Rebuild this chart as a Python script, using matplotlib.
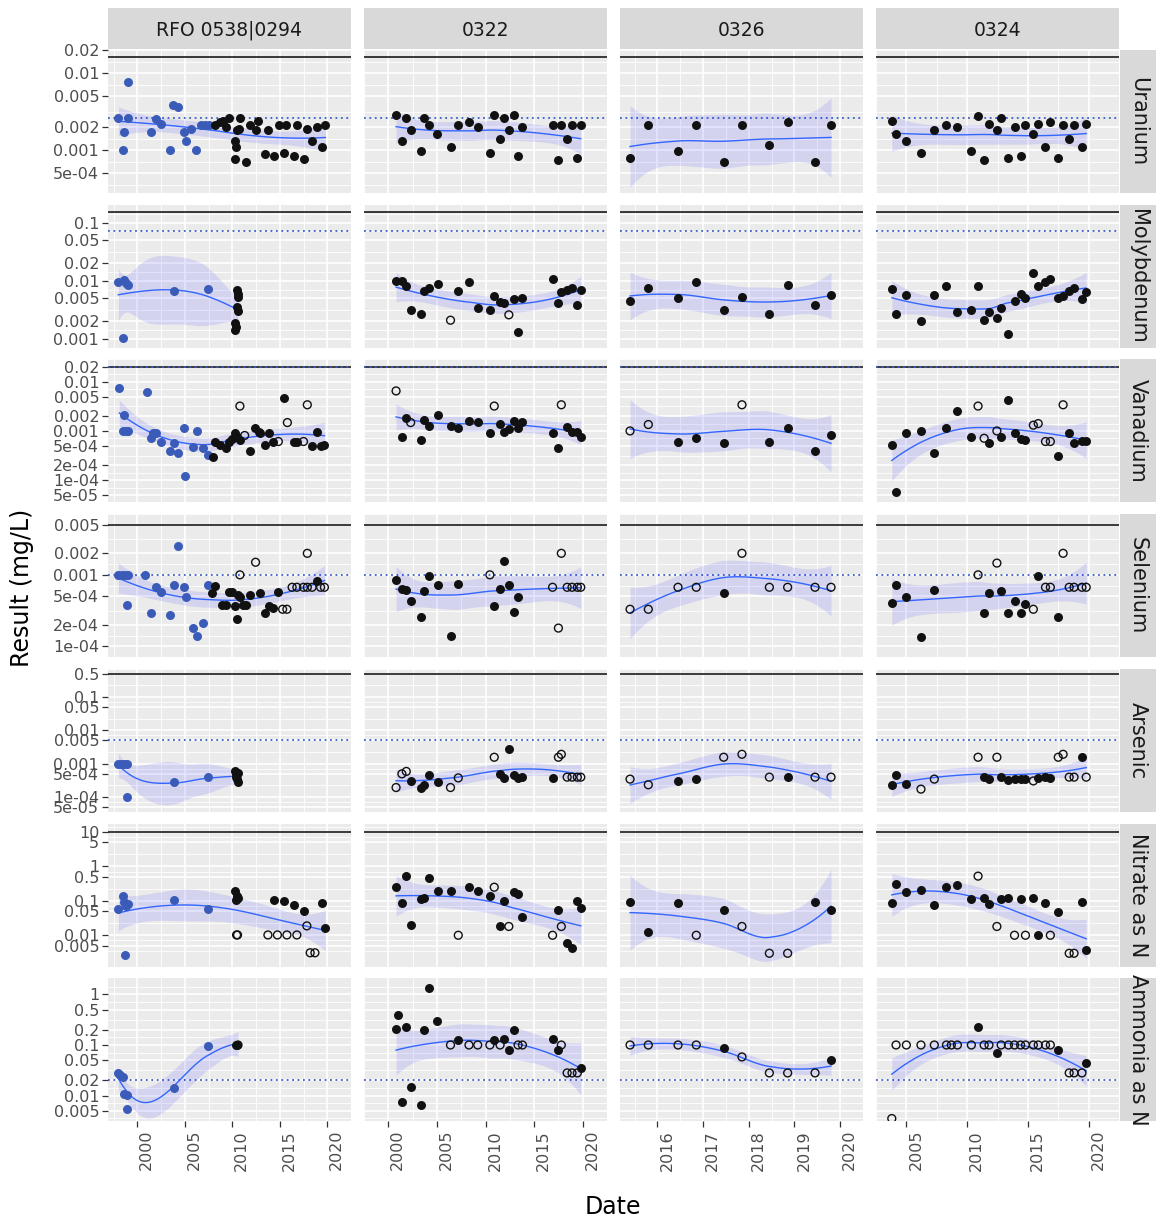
import numpy as np
import matplotlib
matplotlib.use("Agg")
import matplotlib.pyplot as plt
from matplotlib.ticker import NullFormatter
from matplotlib.transforms import ScaledTranslation

stations = ["RFO 0538|0294", "0322", "0326", "0324"]
analytes = ["Uranium", "Molybdenum", "Vanadium", "Selenium", "Arsenic",
            "Nitrate as N", "Ammonia as N"]

# (decimal year, result mg/L, kind)  b = station 0538 (blue), k = detected, o = below detection
uranium = [
    [(1998.0, 0.0026, 'b'), (1998.5, 0.0010, 'b'), (1998.6, 0.0017, 'b'), (1999.0, 0.0076, 'b'),
     (1999.0, 0.0026, 'b'), (2001.4, 0.0017, 'b'), (2002.0, 0.0025, 'b'), (2002.5, 0.0022, 'b'),
     (2003.4, 0.0010, 'b'), (2003.8, 0.0039, 'b'), (2004.3, 0.0036, 'b'), (2004.9, 0.0017, 'b'),
     (2005.1, 0.0013, 'b'), (2005.7, 0.0019, 'b'), (2006.2, 0.0010, 'b'), (2006.7, 0.0021, 'b'),
     (2007.1, 0.0021, 'b'), (2007.5, 0.0021, 'b'),
     (2008.2, 0.0021, 'k'), (2008.7, 0.0023, 'k'), (2009.0, 0.0024, 'k'), (2009.3, 0.0020, 'k'),
     (2009.7, 0.0026, 'k'), (2010.3, 0.0013, 'k'), (2010.4, 0.0011, 'k'), (2010.5, 0.0018, 'k'),
     (2010.7, 0.0019, 'k'), (2010.8, 0.0026, 'k'), (2010.3, 0.00076, 'k'), (2011.4, 0.00071, 'k'),
     (2011.9, 0.0021, 'k'), (2012.5, 0.0018, 'k'), (2012.7, 0.0024, 'k'), (2013.8, 0.0018, 'k'),
     (2013.4, 0.00089, 'k'), (2014.4, 0.00084, 'k'), (2014.9, 0.0021, 'k'), (2015.7, 0.0021, 'k'),
     (2015.4, 0.00093, 'k'), (2016.5, 0.00084, 'k'), (2016.8, 0.0021, 'k'), (2017.5, 0.00076, 'k'),
     (2017.9, 0.0019, 'k'), (2018.4, 0.0013, 'k'), (2018.9, 0.0020, 'k'), (2019.4, 0.0011, 'k'),
     (2019.8, 0.0021, 'k')],
    [(2000.8, 0.0029, 'k'), (2001.4, 0.0013, 'k'), (2001.85, 0.0026, 'k'), (2002.3, 0.0018, 'k'),
     (2003.4, 0.00098, 'k'), (2003.7, 0.0026, 'k'), (2004.2, 0.0021, 'k'), (2005.05, 0.0016, 'k'),
     (2006.4, 0.0011, 'k'), (2007.2, 0.0021, 'k'), (2008.3, 0.0023, 'k'), (2009.2, 0.0020, 'k'),
     (2010.45, 0.00093, 'k'), (2010.9, 0.0029, 'k'), (2011.5, 0.0014, 'k'), (2011.9, 0.0026, 'k'),
     (2012.4, 0.0018, 'k'), (2012.9, 0.0029, 'k'), (2013.35, 0.00084, 'k'), (2013.8, 0.0020, 'k'),
     (2016.9, 0.0021, 'k'), (2017.5, 0.00075, 'k'), (2017.8, 0.0021, 'k'), (2018.4, 0.0014, 'k'),
     (2018.9, 0.0021, 'k'), (2019.45, 0.00079, 'k'), (2019.8, 0.0021, 'k')],
    [(2015.4, 0.00079, 'k'), (2015.8, 0.0021, 'k'), (2016.45, 0.00098, 'k'), (2016.85, 0.0021, 'k'),
     (2017.45, 0.00071, 'k'), (2017.85, 0.0021, 'k'), (2018.45, 0.00116, 'k'), (2018.85, 0.0023, 'k'),
     (2019.45, 0.00071, 'k'), (2019.8, 0.0021, 'k')],
    [(2003.8, 0.0024, 'k'), (2004.15, 0.0016, 'k'), (2005.0, 0.0013, 'k'), (2006.2, 0.00093, 'k'),
     (2007.3, 0.0018, 'k'), (2008.3, 0.0021, 'k'), (2009.2, 0.0020, 'k'), (2010.35, 0.00098, 'k'),
     (2010.9, 0.0028, 'k'), (2011.4, 0.00075, 'k'), (2011.8, 0.0022, 'k'), (2012.45, 0.0018, 'k'),
     (2012.8, 0.0026, 'k'), (2013.4, 0.00079, 'k'), (2013.9, 0.0020, 'k'), (2014.4, 0.00084, 'k'),
     (2014.8, 0.0021, 'k'), (2015.45, 0.0016, 'k'), (2015.85, 0.0022, 'k'), (2016.45, 0.0011, 'k'),
     (2016.85, 0.0023, 'k'), (2017.5, 0.00079, 'k'), (2017.9, 0.0021, 'k'), (2018.4, 0.0014, 'k'),
     (2018.8, 0.0021, 'k'), (2019.45, 0.0011, 'k'), (2019.8, 0.0022, 'k')],
]

molybdenum = [
    [(1998.0, 0.0094, 'b'), (1998.5, 0.00105, 'b'), (1998.6, 0.0103, 'b'), (1998.85, 0.0091, 'b'),
     (1999.05, 0.0086, 'b'), (2003.9, 0.0067, 'b'), (2007.4, 0.0073, 'b'),
     (2010.3, 0.0019, 'k'), (2010.3, 0.0014, 'k'), (2010.5, 0.0069, 'k'), (2010.6, 0.0053, 'k'),
     (2010.55, 0.0030, 'k'), (2010.5, 0.0036, 'k'), (2010.6, 0.0059, 'k'), (2010.35, 0.0016, 'k')],
    [(2000.8, 0.0100, 'k'), (2001.4, 0.0100, 'k'), (2001.85, 0.0083, 'k'), (2002.3, 0.0032, 'k'),
     (2003.4, 0.0027, 'k'), (2003.7, 0.0066, 'k'), (2004.2, 0.0075, 'k'), (2005.1, 0.0088, 'k'),
     (2006.4, 0.0021, 'o'), (2007.2, 0.0066, 'k'), (2008.3, 0.0094, 'k'), (2009.2, 0.0034, 'k'),
     (2010.45, 0.0032, 'k'), (2010.9, 0.0055, 'k'), (2011.5, 0.0043, 'k'), (2011.9, 0.0041, 'k'),
     (2012.4, 0.0026, 'o'), (2012.9, 0.0049, 'k'), (2013.35, 0.0013, 'k'), (2013.8, 0.0051, 'k'),
     (2016.9, 0.0107, 'k'), (2017.5, 0.0041, 'k'), (2017.8, 0.0064, 'k'), (2018.4, 0.0069, 'k'),
     (2018.9, 0.0075, 'k'), (2019.45, 0.0039, 'k'), (2019.8, 0.0069, 'k')],
    [(2015.4, 0.0045, 'k'), (2015.8, 0.0075, 'k'), (2016.45, 0.0051, 'k'), (2016.85, 0.0094, 'k'),
     (2017.45, 0.0032, 'k'), (2017.85, 0.0053, 'k'), (2018.45, 0.0027, 'k'), (2018.85, 0.0085, 'k'),
     (2019.45, 0.0039, 'k'), (2019.8, 0.0058, 'k')],
    [(2003.8, 0.0071, 'k'), (2004.15, 0.0027, 'k'), (2005.0, 0.0058, 'k'), (2006.2, 0.0020, 'k'),
     (2007.3, 0.0058, 'k'), (2008.3, 0.0083, 'k'), (2009.2, 0.0029, 'k'), (2010.35, 0.0032, 'k'),
     (2010.9, 0.0083, 'k'), (2011.4, 0.0021, 'k'), (2011.8, 0.0029, 'k'), (2012.45, 0.0023, 'k'),
     (2012.8, 0.0034, 'k'), (2013.4, 0.00124, 'k'), (2013.9, 0.0045, 'k'), (2014.4, 0.0060, 'k'),
     (2014.8, 0.0051, 'k'), (2015.45, 0.0134, 'k'), (2015.85, 0.0083, 'k'), (2016.45, 0.0097, 'k'),
     (2016.85, 0.0107, 'k'), (2017.5, 0.0051, 'k'), (2017.9, 0.0055, 'k'), (2018.4, 0.0066, 'k'),
     (2018.8, 0.0075, 'k'), (2019.45, 0.0049, 'k'), (2019.8, 0.0063, 'k')],
]

vanadium = [
    [(1998.1, 0.0075, 'b'), (1998.6, 0.0021, 'b'), (1998.5, 0.0010, 'b'), (1998.8, 0.0010, 'b'),
     (1999.0, 0.0010, 'b'), (2001.0, 0.0063, 'b'), (2001.65, 0.00092, 'b'), (2001.95, 0.00092, 'b'),
     (2001.4, 0.00071, 'b'), (2002.45, 0.00061, 'b'), (2003.45, 0.00039, 'b'), (2003.9, 0.00057, 'b'),
     (2004.25, 0.00035, 'b'), (2004.9, 0.00116, 'b'), (2005.0, 0.00012, 'b'), (2005.85, 0.00047, 'b'),
     (2006.25, 0.0010, 'b'), (2006.9, 0.00045, 'b'), (2007.4, 0.00033, 'b'),
     (2008.0, 0.00030, 'k'), (2008.2, 0.00061, 'k'), (2008.7, 0.00053, 'k'), (2009.3, 0.00044, 'k'),
     (2009.7, 0.00061, 'k'), (2010.0, 0.00069, 'k'), (2010.3, 0.00090, 'k'), (2010.5, 0.00077, 'k'),
     (2010.8, 0.00066, 'k'), (2010.8, 0.0032, 'o'), (2011.3, 0.00081, 'o'), (2011.9, 0.00039, 'k'),
     (2012.4, 0.00116, 'k'), (2012.8, 0.00097, 'k'), (2012.9, 0.00092, 'k'), (2013.45, 0.00051, 'k'),
     (2013.9, 0.00092, 'k'), (2014.3, 0.00061, 'k'), (2014.85, 0.00061, 'o'), (2015.4, 0.0046, 'k'),
     (2015.8, 0.00148, 'o'), (2016.5, 0.00061, 'k'), (2016.8, 0.00061, 'k'), (2017.5, 0.00061, 'o'),
     (2017.9, 0.0034, 'o'), (2018.35, 0.00050, 'k'), (2018.9, 0.00097, 'k'), (2019.35, 0.00049, 'k'),
     (2019.7, 0.00053, 'k')],
    [(2000.8, 0.0065, 'o'), (2001.4, 0.00077, 'k'), (2001.85, 0.0018, 'k'), (2002.3, 0.00148, 'o'),
     (2003.4, 0.00066, 'k'), (2003.7, 0.00165, 'k'), (2004.2, 0.00127, 'k'), (2005.1, 0.0021, 'k'),
     (2006.4, 0.00127, 'k'), (2007.2, 0.00116, 'k'), (2008.3, 0.00158, 'k'), (2009.2, 0.00153, 'k'),
     (2010.45, 0.00090, 'k'), (2010.9, 0.0032, 'o'), (2011.5, 0.00141, 'k'), (2011.9, 0.00097, 'k'),
     (2012.4, 0.0011, 'k'), (2012.9, 0.00158, 'k'), (2013.35, 0.00116, 'k'), (2013.8, 0.00153, 'k'),
     (2016.9, 0.00090, 'k'), (2017.5, 0.00044, 'k'), (2017.8, 0.0034, 'o'), (2018.4, 0.00122, 'k'),
     (2018.9, 0.00097, 'k'), (2019.45, 0.00097, 'k'), (2019.8, 0.00074, 'k')],
    [(2015.4, 0.0010, 'o'), (2015.8, 0.00135, 'o'), (2016.45, 0.00061, 'k'), (2016.85, 0.00071, 'k'),
     (2017.45, 0.00057, 'k'), (2017.85, 0.0034, 'o'), (2018.45, 0.00061, 'k'), (2018.85, 0.00116, 'k'),
     (2019.45, 0.00040, 'k'), (2019.8, 0.00083, 'k')],
    [(2003.8, 0.00051, 'k'), (2004.15, 0.000058, 'k'), (2005.0, 0.00092, 'k'), (2006.2, 0.0010, 'k'),
     (2007.3, 0.00035, 'k'), (2008.3, 0.00116, 'k'), (2009.2, 0.0026, 'k'), (2010.35, 0.00077, 'k'),
     (2010.9, 0.0032, 'o'), (2011.4, 0.00071, 'o'), (2011.8, 0.00057, 'k'), (2012.45, 0.0010, 'o'),
     (2012.8, 0.00077, 'k'), (2013.4, 0.0043, 'k'), (2013.9, 0.00090, 'k'), (2014.4, 0.00069, 'k'),
     (2014.8, 0.00066, 'k'), (2015.45, 0.00131, 'o'), (2015.85, 0.00141, 'o'), (2016.45, 0.00061, 'o'),
     (2016.85, 0.00061, 'o'), (2017.5, 0.00031, 'k'), (2017.9, 0.0034, 'o'), (2018.4, 0.00090, 'k'),
     (2018.8, 0.00057, 'k'), (2019.45, 0.00063, 'k'), (2019.8, 0.00063, 'k')],
]

selenium = [
    [(1998.0, 0.0010, 'b'), (1998.35, 0.0010, 'b'), (1998.7, 0.0010, 'b'), (1999.0, 0.0010, 'b'),
     (1998.95, 0.00038, 'b'), (2000.8, 0.0010, 'b'), (2001.4, 0.00029, 'b'), (2002.0, 0.00067, 'b'),
     (2002.45, 0.00057, 'b'), (2003.45, 0.00027, 'b'), (2003.9, 0.00071, 'b'), (2004.25, 0.0025, 'b'),
     (2004.9, 0.00067, 'b'), (2005.1, 0.00049, 'b'), (2005.85, 0.00018, 'b'), (2006.25, 0.00014, 'b'),
     (2006.9, 0.00021, 'b'), (2007.4, 0.00071, 'b'),
     (2007.9, 0.00055, 'k'), (2008.2, 0.00069, 'k'), (2008.95, 0.00038, 'k'), (2009.35, 0.00038, 'k'),
     (2009.7, 0.00058, 'k'), (2009.95, 0.00057, 'k'), (2010.3, 0.00037, 'k'), (2010.5, 0.00024, 'k'),
     (2010.65, 0.00053, 'k'), (2010.8, 0.00049, 'k'), (2010.8, 0.0010, 'o'), (2011.15, 0.00038, 'k'),
     (2011.45, 0.00038, 'k'), (2011.9, 0.00053, 'k'), (2012.45, 0.0015, 'o'), (2012.9, 0.00055, 'k'),
     (2013.45, 0.00029, 'k'), (2013.85, 0.00037, 'k'), (2014.3, 0.00034, 'k'), (2014.85, 0.00057, 'k'),
     (2015.3, 0.00033, 'o'), (2015.75, 0.00033, 'o'), (2016.3, 0.00067, 'o'), (2016.8, 0.00067, 'o'),
     (2017.5, 0.00067, 'o'), (2017.9, 0.0020, 'o'), (2017.9, 0.00067, 'o'), (2018.4, 0.00067, 'o'),
     (2018.9, 0.00083, 'k'), (2019.3, 0.00067, 'o'), (2019.7, 0.00067, 'o')],
    [(2000.8, 0.00085, 'k'), (2001.4, 0.00064, 'k'), (2001.85, 0.00061, 'k'), (2002.3, 0.00043, 'k'),
     (2003.4, 0.00026, 'k'), (2003.7, 0.00059, 'k'), (2004.2, 0.00097, 'k'), (2005.1, 0.00071, 'k'),
     (2006.4, 0.00014, 'k'), (2007.2, 0.00075, 'k'), (2010.45, 0.0010, 'o'), (2010.9, 0.00037, 'k'),
     (2011.5, 0.00064, 'k'), (2011.9, 0.00156, 'k'), (2012.4, 0.00071, 'k'), (2012.9, 0.00030, 'k'),
     (2013.35, 0.00049, 'k'), (2016.9, 0.00067, 'o'), (2017.5, 0.00018, 'o'), (2017.8, 0.0020, 'o'),
     (2018.4, 0.00067, 'o'), (2018.9, 0.00067, 'o'), (2019.45, 0.00067, 'o'), (2019.8, 0.00067, 'o')],
    [(2015.4, 0.00033, 'o'), (2015.8, 0.00033, 'o'), (2016.45, 0.00067, 'o'), (2016.85, 0.00067, 'o'),
     (2017.45, 0.00055, 'k'), (2017.85, 0.0020, 'o'), (2018.45, 0.00067, 'o'), (2018.85, 0.00067, 'o'),
     (2019.45, 0.00067, 'o'), (2019.8, 0.00067, 'o')],
    [(2003.8, 0.00040, 'k'), (2004.15, 0.00071, 'k'), (2005.0, 0.00049, 'k'), (2006.2, 0.000135, 'k'),
     (2007.3, 0.00061, 'k'), (2010.9, 0.0010, 'o'), (2011.4, 0.00029, 'k'), (2011.8, 0.00055, 'k'),
     (2012.45, 0.00146, 'o'), (2012.8, 0.00059, 'k'), (2013.4, 0.00029, 'k'), (2013.9, 0.00043, 'k'),
     (2014.4, 0.00029, 'k'), (2014.8, 0.00039, 'k'), (2015.45, 0.00033, 'o'), (2015.85, 0.00097, 'k'),
     (2016.45, 0.00067, 'o'), (2016.85, 0.00067, 'o'), (2017.5, 0.00026, 'k'), (2017.9, 0.0020, 'o'),
     (2018.4, 0.00067, 'o'), (2018.8, 0.00067, 'o'), (2019.45, 0.00067, 'o'), (2019.8, 0.00067, 'o')],
]

arsenic = [
    [(1998.0, 0.0010, 'b'), (1998.3, 0.0010, 'b'), (1998.6, 0.0010, 'b'), (1998.9, 0.0010, 'b'),
     (1998.95, 0.000096, 'b'), (2003.9, 0.00027, 'b'), (2007.4, 0.00039, 'b'),
     (2010.3, 0.00058, 'k'), (2010.4, 0.00047, 'k'), (2010.5, 0.00034, 'k'), (2010.6, 0.00027, 'k'),
     (2010.65, 0.00052, 'k'), (2010.35, 0.00040, 'k')],
    [(2000.8, 0.00019, 'o'), (2001.4, 0.00049, 'o'), (2001.85, 0.00058, 'o'), (2002.3, 0.00030, 'k'),
     (2003.4, 0.00019, 'k'), (2003.7, 0.00023, 'k'), (2004.2, 0.00045, 'k'), (2005.1, 0.00027, 'k'),
     (2006.4, 0.00019, 'o'), (2007.2, 0.00037, 'o'), (2010.9, 0.00155, 'o'), (2011.5, 0.00047, 'k'),
     (2011.9, 0.00037, 'k'), (2012.4, 0.0028, 'k'), (2012.9, 0.00045, 'k'), (2013.35, 0.00036, 'k'),
     (2013.8, 0.00039, 'k'), (2016.9, 0.00036, 'k'), (2017.5, 0.00155, 'o'), (2017.8, 0.0019, 'o'),
     (2018.4, 0.00039, 'o'), (2018.9, 0.00039, 'o'), (2019.45, 0.00039, 'o'), (2019.8, 0.00039, 'o')],
    [(2015.4, 0.00034, 'o'), (2015.8, 0.00023, 'o'), (2016.45, 0.00030, 'k'), (2016.85, 0.00034, 'k'),
     (2017.45, 0.00155, 'o'), (2017.85, 0.0019, 'o'), (2018.45, 0.00039, 'o'), (2018.85, 0.00039, 'k'),
     (2019.45, 0.00039, 'o'), (2019.8, 0.00039, 'o')],
    [(2003.8, 0.00022, 'k'), (2004.15, 0.00045, 'k'), (2005.0, 0.00024, 'k'), (2006.2, 0.00017, 'o'),
     (2007.3, 0.00034, 'o'), (2010.9, 0.00155, 'o'), (2011.4, 0.00039, 'k'), (2011.8, 0.00034, 'k'),
     (2012.45, 0.00155, 'o'), (2012.8, 0.00039, 'k'), (2013.4, 0.00031, 'k'), (2013.9, 0.00034, 'k'),
     (2014.4, 0.00034, 'k'), (2014.8, 0.00034, 'k'), (2015.45, 0.00030, 'o'), (2015.85, 0.00037, 'k'),
     (2016.45, 0.00039, 'k'), (2016.85, 0.00037, 'k'), (2017.5, 0.00155, 'o'), (2017.9, 0.0019, 'o'),
     (2018.4, 0.00039, 'o'), (2018.8, 0.00039, 'o'), (2019.45, 0.00155, 'k'), (2019.8, 0.00039, 'o')],
]

nitrate = [
    [(1998.0, 0.057, 'b'), (1998.45, 0.14, 'b'), (1998.6, 0.090, 'b'), (1998.85, 0.072, 'b'),
     (1999.0, 0.080, 'b'), (1998.65, 0.0027, 'b'), (2003.9, 0.105, 'b'), (2007.4, 0.057, 'b'),
     (2010.3, 0.197, 'k'), (2010.5, 0.141, 'k'), (2010.4, 0.105, 'k'), (2010.6, 0.121, 'k'),
     (2010.55, 0.0102, 'o'), (2010.45, 0.0102, 'o'), (2013.75, 0.0102, 'o'), (2014.35, 0.105, 'k'),
     (2014.75, 0.0102, 'o'), (2015.4, 0.097, 'k'), (2015.75, 0.0102, 'o'), (2016.5, 0.075, 'k'),
     (2016.8, 0.0102, 'o'), (2017.55, 0.051, 'k'), (2017.85, 0.0187, 'o'), (2018.2, 0.0031, 'o'),
     (2018.7, 0.0031, 'o'), (2019.45, 0.086, 'k'), (2019.8, 0.016, 'k')],
    [(2000.8, 0.248, 'k'), (2001.4, 0.086, 'k'), (2001.85, 0.52, 'k'), (2002.3, 0.0196, 'k'),
     (2003.4, 0.113, 'k'), (2003.7, 0.118, 'k'), (2004.2, 0.455, 'k'), (2005.1, 0.197, 'k'),
     (2006.4, 0.197, 'k'), (2007.2, 0.010, 'o'), (2008.3, 0.248, 'k'), (2009.2, 0.197, 'k'),
     (2010.45, 0.141, 'k'), (2010.9, 0.248, 'o'), (2011.5, 0.018, 'k'), (2011.9, 0.10, 'k'),
     (2012.4, 0.018, 'o'), (2012.9, 0.184, 'k'), (2013.35, 0.158, 'k'), (2013.8, 0.033, 'k'),
     (2016.9, 0.010, 'o'), (2017.5, 0.055, 'k'), (2017.8, 0.018, 'o'), (2018.4, 0.0061, 'k'),
     (2018.9, 0.0044, 'k'), (2019.45, 0.10, 'k'), (2019.8, 0.060, 'k')],
    [(2015.4, 0.094, 'k'), (2015.8, 0.0125, 'k'), (2016.45, 0.086, 'k'), (2016.85, 0.010, 'o'),
     (2017.45, 0.055, 'k'), (2017.85, 0.018, 'o'), (2018.45, 0.0030, 'o'), (2018.85, 0.0030, 'o'),
     (2019.45, 0.094, 'k'), (2019.8, 0.055, 'k')],
    [(2003.8, 0.086, 'k'), (2004.15, 0.31, 'k'), (2005.0, 0.177, 'k'), (2006.2, 0.21, 'k'),
     (2007.3, 0.075, 'k'), (2008.3, 0.248, 'k'), (2009.2, 0.29, 'k'), (2010.35, 0.113, 'k'),
     (2010.9, 0.52, 'o'), (2011.4, 0.118, 'k'), (2011.8, 0.080, 'k'), (2012.45, 0.018, 'o'),
     (2012.8, 0.113, 'k'), (2013.4, 0.118, 'k'), (2013.9, 0.010, 'o'), (2014.4, 0.113, 'k'),
     (2014.8, 0.010, 'o'), (2015.45, 0.118, 'k'), (2015.85, 0.010, 'k'), (2016.45, 0.086, 'k'),
     (2016.85, 0.010, 'o'), (2017.5, 0.048, 'k'), (2018.4, 0.0030, 'o'), (2018.8, 0.0030, 'o'),
     (2019.45, 0.094, 'k'), (2019.8, 0.0037, 'k')],
]

ammonia = [
    [(1998.0, 0.028, 'b'), (1998.2, 0.026, 'b'), (1998.45, 0.023, 'b'), (1998.6, 0.0108, 'b'),
     (1998.95, 0.0103, 'b'), (1998.95, 0.0054, 'b'), (2003.9, 0.014, 'b'), (2007.4, 0.094, 'b'),
     (2010.4, 0.10, 'k'), (2010.5, 0.10, 'k'), (2010.6, 0.10, 'o')],
    [(2000.8, 0.205, 'k'), (2000.95, 0.40, 'k'), (2001.4, 0.0076, 'k'), (2001.85, 0.228, 'k'),
     (2002.3, 0.0147, 'k'), (2003.4, 0.0065, 'k'), (2003.7, 0.195, 'k'), (2004.2, 1.35, 'k'),
     (2005.05, 0.295, 'k'), (2006.4, 0.10, 'o'), (2007.2, 0.124, 'k'), (2008.3, 0.10, 'o'),
     (2009.2, 0.10, 'o'), (2010.45, 0.10, 'o'), (2010.9, 0.124, 'k'), (2011.5, 0.10, 'o'),
     (2011.9, 0.134, 'k'), (2012.4, 0.078, 'k'), (2012.9, 0.195, 'k'), (2013.35, 0.10, 'o'),
     (2013.8, 0.10, 'o'), (2016.9, 0.134, 'k'), (2017.5, 0.078, 'k'), (2017.8, 0.10, 'o'),
     (2018.4, 0.028, 'o'), (2018.9, 0.028, 'o'), (2019.45, 0.028, 'o'), (2019.8, 0.035, 'k')],
    [(2015.4, 0.10, 'o'), (2015.8, 0.10, 'o'), (2016.45, 0.10, 'o'), (2016.85, 0.10, 'o'),
     (2017.45, 0.087, 'k'), (2017.85, 0.058, 'o'), (2018.45, 0.028, 'o'), (2018.85, 0.028, 'o'),
     (2019.45, 0.028, 'o'), (2019.8, 0.0496, 'k')],
    [(2003.8, 0.0035, 'o'), (2004.15, 0.10, 'o'), (2005.0, 0.10, 'o'), (2006.2, 0.10, 'o'),
     (2007.3, 0.10, 'o'), (2008.3, 0.10, 'o'), (2008.7, 0.10, 'o'), (2009.2, 0.10, 'o'),
     (2010.35, 0.10, 'o'), (2010.9, 0.228, 'k'), (2011.4, 0.10, 'o'), (2011.8, 0.10, 'o'),
     (2012.45, 0.070, 'k'), (2012.8, 0.10, 'o'), (2013.4, 0.10, 'o'), (2013.9, 0.10, 'o'),
     (2014.4, 0.10, 'o'), (2014.8, 0.10, 'o'), (2015.45, 0.10, 'o'), (2015.85, 0.10, 'o'),
     (2016.45, 0.10, 'o'), (2016.85, 0.10, 'o'), (2017.5, 0.078, 'k'), (2018.4, 0.028, 'o'),
     (2018.8, 0.028, 'o'), (2019.45, 0.028, 'o'), (2019.8, 0.0447, 'k')],
]

all_data = [uranium, molybdenum, vanadium, selenium, arsenic, nitrate, ammonia]

# guideline values (solid black / dotted blue), None = not drawn
solid_lines = [0.016, 0.15, 0.02, 0.005, 0.5, 10, None]
dotted_lines = [0.0026, 0.073, 0.02, 0.001, 0.005, None, 0.02]

y_lims = [(2.77e-4, 0.0198), (8.9e-4, 0.204), (4.8e-5, 0.0284), (9.8e-5, 0.00575),
          (4.6e-5, 0.71), (1.24e-3, 17.5), (3.1e-3, 2.1)]
y_ticks = [[5e-4, 0.001, 0.002, 0.005, 0.01, 0.02],
           [0.001, 0.002, 0.005, 0.01, 0.02, 0.05, 0.1],
           [5e-5, 1e-4, 2e-4, 5e-4, 0.001, 0.002, 0.005, 0.01, 0.02],
           [1e-4, 2e-4, 5e-4, 0.001, 0.002, 0.005],
           [5e-5, 1e-4, 5e-4, 0.001, 0.005, 0.01, 0.05, 0.1, 0.5],
           [0.005, 0.01, 0.05, 0.1, 0.5, 1, 5, 10],
           [0.005, 0.01, 0.02, 0.05, 0.1, 0.2, 0.5, 1]]
y_labels = [["5e-04", "0.001", "0.002", "0.005", "0.01", "0.02"],
            ["0.001", "0.002", "0.005", "0.01", "0.02", "0.05", "0.1"],
            ["5e-05", "1e-04", "2e-04", "5e-04", "0.001", "0.002", "0.005", "0.01", "0.02"],
            ["1e-04", "2e-04", "5e-04", "0.001", "0.002", "0.005"],
            ["5e-05", "1e-04", "5e-04", "0.001", "0.005", "0.01", "0.05", "0.1", "0.5"],
            ["0.005", "0.01", "0.05", "0.1", "0.5", "1", "5", "10"],
            ["0.005", "0.01", "0.02", "0.05", "0.1", "0.2", "0.5", "1"]]
x_ticks = [[2000, 2005, 2010, 2015, 2020], [2000, 2005, 2010, 2015, 2020],
           [2016, 2017, 2018, 2019, 2020], [2005, 2010, 2015, 2020]]


def minor_breaks(b, lo, hi):
    # ggplot2 regular_minor_breaks: midpoints between majors, one step beyond
    b = [v for v in b if lo <= v <= hi]
    bd = b[1] - b[0]
    if lo < b[0]:
        b = [b[0] - bd] + b
    if hi > b[-1]:
        b = b + [b[-1] + bd]
    return [(b[i] + b[i + 1]) / 2 for i in range(len(b) - 1)]


def t975(df):
    z = 1.959964
    g1 = (z**3 + z) / 4
    g2 = (5 * z**5 + 16 * z**3 + 3 * z) / 96
    g3 = (3 * z**7 + 19 * z**5 + 17 * z**3 - 15 * z) / 384
    return z + g1 / df + g2 / df**2 + g3 / df**3


def loess(x, y, xs, span=1.0, cell=0.2):
    # local quadratic fit, tricube weights, evaluated on a 1-d kd tree and
    # blended with cubic Hermite pieces (R loess surface = "interpolate")
    n = len(x)
    q = min(n, int(np.floor(n * span)))

    def local(x0):
        d = np.abs(x - x0)
        h = max(np.sort(d)[q - 1] * max(1.0, span), 1e-9)
        u = np.clip(d / h, 0, 1)
        w = (1 - u**3)**3
        X = np.column_stack([np.ones(n), x - x0, (x - x0)**2])
        XW = X * w[:, None]
        M = np.linalg.pinv(X.T @ XW) @ XW.T
        return M[0], M[1]

    fc = int(np.floor(n * span * cell))
    xsort = np.sort(x)
    mu = 0.005 * max(xsort[-1] - xsort[0], 1e-10)
    verts = {xsort[0] - mu, xsort[-1] + mu}

    def build(pts, vlo, vhi):
        k = len(pts)
        if k <= fc:
            return
        m = (k - 1) // 2
        off = 0
        while 0 <= m + off < k - 1:
            if pts[m + off] == pts[m + off + 1]:
                off = -off
                if off >= 0:
                    off += 1
            else:
                m = m + off
                break
        t = pts[m]
        if t == vlo or t == vhi:
            return
        verts.add(t)
        build(pts[:m + 1], vlo, t)
        build(pts[m + 1:], t, vhi)

    build(xsort, xsort[0] - mu, xsort[-1] + mu)
    V = np.array(sorted(verts))
    rows = [local(v) for v in V]

    def row(x0):
        i = int(np.clip(np.searchsorted(V, x0, side='right') - 1, 0, len(V) - 2))
        a, b = V[i], V[i + 1]
        h = b - a
        u = (x0 - a) / h
        p0 = (1 - u)**2 * (1 + 2 * u)
        p1 = u**2 * (3 - 2 * u)
        s0 = u * (1 - u)**2
        s1 = -u**2 * (1 - u)
        return p0 * rows[i][0] + p1 * rows[i + 1][0] + h * (s0 * rows[i][1] + s1 * rows[i + 1][1])

    L = np.array([row(v) for v in x])
    R = np.eye(n) - L
    RR = R.T @ R
    d1 = np.trace(RR)
    d2 = np.trace(RR @ RR)
    s = np.sqrt(np.sum((R @ y)**2) / d1)
    tq = t975(d1**2 / d2)
    fit, se = [], []
    for v in xs:
        l = row(v)
        fit.append(l @ y)
        se.append(s * np.sqrt(np.sum(l**2)))
    fit, se = np.array(fit), np.array(se)
    return fit, fit - tq * se, fit + tq * se


W, H = 1156, 1222
fig = plt.figure(figsize=(W / 100, H / 100), dpi=100)


def px_axes(x, y, w, h):
    return fig.add_axes([x / W, 1 - (y + h) / H, w / W, h / H])


col_left = [108, 364, 620, 876]
panel_w = 243
row_top = [50 + 154.7 * i for i in range(7)]
panel_h = 143

x_lims = []
for c in range(4):
    xs = [p[0] for d in all_data for p in d[c]]
    pad = 0.05 * (max(xs) - min(xs))
    x_lims.append((min(xs) - pad, max(xs) + pad))

colors = {'b': '#3A5BB8', 'k': '#111111'}
label_shift = ScaledTranslation(2 / 100, 0, fig.dpi_scale_trans)

for r, data in enumerate(all_data):
    lo, hi = y_lims[r]
    for c in range(4):
        ax = px_axes(col_left[c], row_top[r], panel_w, panel_h)
        ax.set_facecolor('#EBEBEB')
        for s in ax.spines.values():
            s.set_visible(False)
        ax.set_yscale('log')
        ax.set_xlim(*x_lims[c])
        ax.set_ylim(lo, hi)

        ax.set_yticks(y_ticks[r])
        ymin = minor_breaks(list(np.log10(y_ticks[r])), np.log10(lo), np.log10(hi))
        ax.set_yticks([10**v for v in ymin], minor=True)
        ax.set_xticks(x_ticks[c])
        ax.set_xticks(minor_breaks(x_ticks[c], *x_lims[c]), minor=True)
        ax.grid(which='major', color='white', lw=1.2)
        ax.grid(which='minor', color='white', lw=0.6)
        ax.set_axisbelow(True)
        ax.yaxis.set_minor_formatter(NullFormatter())
        ax.xaxis.set_minor_formatter(NullFormatter())
        ax.tick_params(which='minor', length=0)
        ax.tick_params(which='major', length=4.3, width=0.9, color='#333333',
                       labelsize=11.5, labelcolor='#4D4D4D', pad=2)
        if c == 0:
            ax.set_yticklabels(y_labels[r])
        else:
            ax.tick_params(axis='y', which='major', length=0, labelleft=False)
        if r == 6:
            ax.set_xticklabels([str(t) for t in x_ticks[c]], rotation=90, ha='left', va='top')
            for lab in ax.get_xticklabels():
                lab.set_transform(lab.get_transform() + label_shift)
        else:
            ax.tick_params(axis='x', which='major', length=0, labelbottom=False)

        if solid_lines[r] is not None:
            ax.axhline(solid_lines[r], color='#1A1A1A', lw=1.2, zorder=2)
        if dotted_lines[r] is not None:
            ax.axhline(dotted_lines[r], color='#3A5FCD', lw=1.3, ls=(0, (1, 2)), zorder=2.1)

        pts = data[c]
        x = np.array([p[0] for p in pts])
        y = np.log10([p[1] for p in pts])
        xs = np.linspace(x.min(), x.max(), 80)
        fit, lo_b, hi_b = loess(x, y, xs)
        ax.fill_between(xs, 10**lo_b, 10**hi_b, color='blue', alpha=0.1, lw=0, zorder=2.5)
        ax.plot(xs, 10**fit, color='#3366FF', lw=1.0, zorder=2.6)

        for kind in ['b', 'k']:
            sel = [p for p in pts if p[2] == kind]
            if sel:
                ax.scatter([p[0] for p in sel], [p[1] for p in sel], s=42,
                           color=colors[kind], lw=0, zorder=3)
        sel = [p for p in pts if p[2] == 'o']
        if sel:
            ax.scatter([p[0] for p in sel], [p[1] for p in sel], s=32, facecolor='none',
                       edgecolor='#111111', lw=1.0, zorder=3)

# column strips
for c in range(4):
    sa = px_axes(col_left[c], 8, panel_w, 41)
    sa.set_facecolor('#D9D9D9')
    sa.set_xticks([]); sa.set_yticks([])
    for s in sa.spines.values():
        s.set_visible(False)
    sa.text(0.5, 0.45, stations[c], ha='center', va='center', fontsize=13.5, color='#1A1A1A',
            transform=sa.transAxes)

# row strips
for r in range(7):
    sa = px_axes(1120, row_top[r], 36, panel_h)
    sa.set_facecolor('#D9D9D9')
    sa.set_xticks([]); sa.set_yticks([])
    for s in sa.spines.values():
        s.set_visible(False)
    sa.text(0.5, 0.5, analytes[r], ha='center', va='center', rotation=-90, fontsize=15,
            color='#1A1A1A', transform=sa.transAxes)

fig.text(22 / W, 1 - 588 / H, "Result (mg/L)", rotation=90, ha='center', va='center', fontsize=17)
fig.text(613 / W, 1 - 1207 / H, "Date", ha='center', va='center', fontsize=17)

fig.savefig("out.png", dpi=100)
